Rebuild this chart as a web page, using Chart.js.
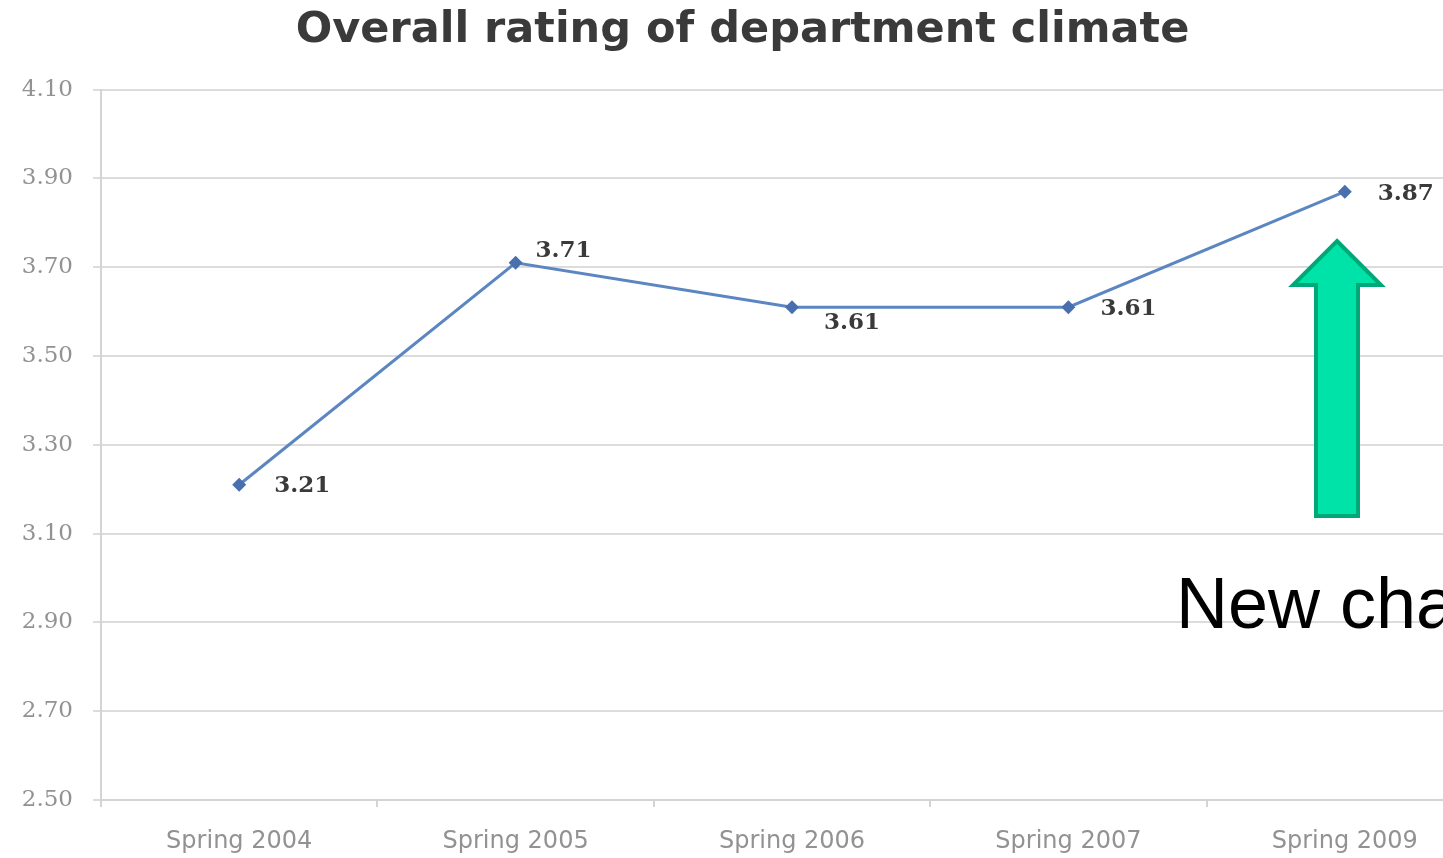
<!DOCTYPE html>
<html>
<head>
<meta charset="utf-8">
<script src="https://cdn.jsdelivr.net/npm/chart.js@4/dist/chart.umd.min.js"></script>
<style>
  html, body { margin: 0; padding: 0; background: #fff; overflow: hidden; }
  #wrap { width: 1490px; height: 858px; }
</style>
</head>
<body>
<div id="wrap"><canvas id="climateChart"></canvas></div>
<script>
var categories = ['Spring 2004', 'Spring 2005', 'Spring 2006', 'Spring 2007', 'Spring 2009'];
var ratings = [3.21, 3.71, 3.61, 3.61, 3.87];
var yMin = 2.5, yMax = 4.1, yStep = 0.2;

// where each value label sits relative to its point
var labelOffsets = [[35, 1], [20, -12], [32, 16], [32, 2], [33, 2]];

var valueLabels = {
  id: 'valueLabels',
  afterDatasetsDraw: function (chart) {
    var ctx = chart.ctx;
    var pts = chart.getDatasetMeta(0).data;
    ctx.save();
    ctx.font = 'bold 23px "DejaVu Serif"';
    ctx.fillStyle = '#3a3a3a';
    ctx.textAlign = 'left';
    ctx.textBaseline = 'middle';
    pts.forEach(function (p, i) {
      var o = labelOffsets[i];
      ctx.fillText(ratings[i].toFixed(2), p.x + o[0], p.y + o[1]);
    });
    ctx.restore();
  }
};

var arrowNote = {
  id: 'arrowNote',
  afterDraw: function (chart) {
    var ctx = chart.ctx;
    ctx.save();
    ctx.beginPath();
    ctx.moveTo(1337, 241);
    ctx.lineTo(1381, 285);
    ctx.lineTo(1358, 285);
    ctx.lineTo(1358, 516);
    ctx.lineTo(1316, 516);
    ctx.lineTo(1316, 285);
    ctx.lineTo(1293, 285);
    ctx.closePath();
    ctx.fillStyle = '#00e3a8';
    ctx.fill();
    ctx.lineWidth = 4;
    ctx.lineJoin = 'miter';
    ctx.strokeStyle = '#00a878';
    ctx.stroke();
    ctx.font = '72px "Liberation Sans"';
    ctx.fillStyle = '#000';
    ctx.textAlign = 'left';
    ctx.textBaseline = 'alphabetic';
    ctx.fillText('New chair', 1176, 628);
    ctx.restore();
  }
};

var ctx = document.getElementById('climateChart').getContext('2d');
var climateChart = new Chart(ctx, {
  type: 'line',
  data: {
    labels: categories,
    datasets: [{
      label: 'Overall rating',
      data: ratings,
      borderColor: '#5b86c2',
      backgroundColor: '#4a6fae',
      borderWidth: 3,
      pointStyle: 'rectRot',
      pointRadius: 7,
      pointBorderWidth: 0,
      tension: 0
    }]
  },
  options: {
    responsive: true,
    maintainAspectRatio: false,
    animation: false,
    layout: { padding: { left: 0, right: 5, top: 0, bottom: 0 } },
    plugins: {
      legend: { display: false },
      tooltip: { enabled: false },
      title: {
        display: true,
        text: 'Overall rating of department climate',
        color: '#3a3a3a',
        font: { family: '"DejaVu Sans"', size: 43, weight: 'bold' },
        padding: { top: 5, bottom: 33 }
      }
    },
    scales: {
      x: {
        offset: true,
        grid: {
          offset: true,
          drawOnChartArea: false,
          drawTicks: true,
          tickLength: 7,
          color: '#d4d4d4',
          lineWidth: 2
        },
        border: { color: '#d4d4d4', width: 2 },
        ticks: {
          color: '#929292',
          font: { family: '"DejaVu Sans"', size: 24 },
          padding: 20,
          maxRotation: 0
        },
        afterFit: function (scale) { scale.height = 58; }
      },
      y: {
        min: yMin,
        max: yMax,
        grid: { color: '#dcdcdc', lineWidth: 2, tickLength: 8 },
        border: { color: '#d4d4d4', width: 2 },
        ticks: {
          stepSize: yStep,
          color: '#929292',
          font: { family: '"DejaVu Serif"', size: 23 },
          padding: 20,
          callback: function (v) { return v.toFixed(2); }
        },
        afterFit: function (scale) { scale.width = 101; }
      }
    }
  },
  plugins: [valueLabels, arrowNote]
});
</script>
</body>
</html>
